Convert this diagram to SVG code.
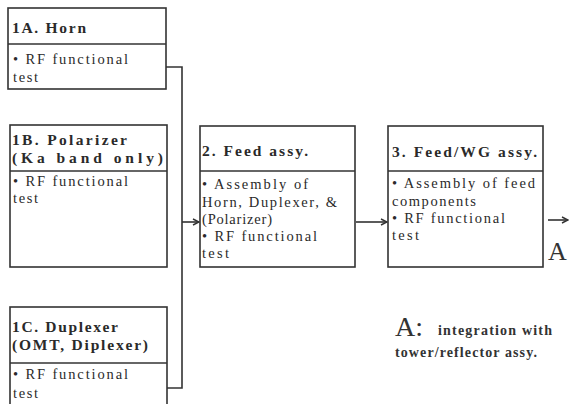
<svg xmlns="http://www.w3.org/2000/svg" width="569" height="404" viewBox="0 0 569 404">
<defs>
<style>
.box{fill:#fff;stroke:#333;stroke-width:1.6}
.div{stroke:#333;stroke-width:1.4}
.t{font-family:"Liberation Serif","DejaVu Serif",serif;font-size:15.5px;font-weight:bold;fill:#2a2a2a}
.b{font-family:"Liberation Serif","DejaVu Serif",serif;font-size:14.5px;fill:#2a2a2a}
.conn{fill:none;stroke:#333;stroke-width:1.6}
</style>
<marker id="arr" markerWidth="8" markerHeight="8" refX="7" refY="4" orient="auto" markerUnits="userSpaceOnUse">
<path d="M1,1 L7,4 L1,7" fill="none" stroke="#333" stroke-width="1.4"/>
</marker>
</defs>
<rect width="569" height="404" fill="#fff"/>
<g id="connectors">
<path class="conn" d="M166,67 H182 V388 H167"/>
<path class="conn" d="M182,222 H199" marker-end="url(#arr)"/>
<path class="conn" d="M356,222 H387" marker-end="url(#arr)"/>
<path class="conn" d="M548,220 H568" marker-end="url(#arr)"/>
</g>
<g id="n1A">
<rect class="box" x="8" y="8" width="158" height="81"/>
<line class="div" x1="8" y1="44" x2="166" y2="44"/>
<text class="t" x="12" y="33" textLength="74" lengthAdjust="spacing">1A. Horn</text>
<text class="b" x="13" y="64" textLength="115" lengthAdjust="spacing">• RF functional</text>
<text class="b" x="13" y="82" textLength="25" lengthAdjust="spacing">test</text>
</g>
<g id="n1B">
<rect class="box" x="10" y="125" width="157" height="142"/>
<line class="div" x1="10" y1="171" x2="167" y2="171"/>
<text class="t" x="12" y="145" textLength="115" lengthAdjust="spacing">1B. Polarizer</text>
<text class="t" x="12" y="163" textLength="151" lengthAdjust="spacing">(Ka band only)</text>
<text class="b" x="13" y="186" textLength="115" lengthAdjust="spacing">• RF functional</text>
<text class="b" x="13" y="203" textLength="25" lengthAdjust="spacing">test</text>
</g>
<g id="n1C">
<rect class="box" x="10" y="307" width="157" height="110"/>
<line class="div" x1="10" y1="363" x2="167" y2="363"/>
<text class="t" x="12" y="332" textLength="106" lengthAdjust="spacing">1C. Duplexer</text>
<text class="t" x="12" y="350" textLength="136" lengthAdjust="spacing">(OMT, Diplexer)</text>
<text class="b" x="13" y="379" textLength="115" lengthAdjust="spacing">• RF functional</text>
<text class="b" x="13" y="398" textLength="25" lengthAdjust="spacing">test</text>
</g>
<g id="n2">
<rect class="box" x="200" y="126" width="155" height="141"/>
<line class="div" x1="200" y1="171" x2="355" y2="171"/>
<text class="t" x="202" y="156" textLength="106" lengthAdjust="spacing">2. Feed assy.</text>
<text class="b" x="202" y="189" textLength="106" lengthAdjust="spacing">• Assembly of</text>
<text class="b" x="202" y="207" textLength="135" lengthAdjust="spacing">Horn, Duplexer, &amp;</text>
<text class="b" x="202" y="224" textLength="70" lengthAdjust="spacing">(Polarizer)</text>
<text class="b" x="202" y="241" textLength="115" lengthAdjust="spacing">• RF functional</text>
<text class="b" x="202" y="258" textLength="27" lengthAdjust="spacing">test</text>
</g>
<g id="n3">
<rect class="box" x="388" y="126" width="155" height="141"/>
<line class="div" x1="388" y1="171" x2="543" y2="171"/>
<text class="t" x="392" y="157" textLength="145" lengthAdjust="spacing">3. Feed/WG assy.</text>
<text class="b" x="392" y="188" textLength="143" lengthAdjust="spacing">• Assembly of feed</text>
<text class="b" x="392" y="206" textLength="84" lengthAdjust="spacing">components</text>
<text class="b" x="392" y="223" textLength="113" lengthAdjust="spacing">• RF functional</text>
<text class="b" x="392" y="240" textLength="27" lengthAdjust="spacing">test</text>
</g>
<g id="nA">
<text x="548" y="260" style="font-family:'Liberation Serif','DejaVu Serif',serif;font-size:26px;fill:#333">A</text>
</g>
<g id="legend">
<text x="395" y="336" style="font-family:'Liberation Serif','DejaVu Serif',serif;font-size:28px;fill:#333">A:</text>
<text x="438" y="335" textLength="114" lengthAdjust="spacing" style="font-family:'Liberation Serif','DejaVu Serif',serif;font-size:14px;font-weight:bold;fill:#333">integration with</text>
<text x="395" y="357" textLength="142" lengthAdjust="spacing" style="font-family:'Liberation Serif','DejaVu Serif',serif;font-size:14px;font-weight:bold;fill:#333">tower/reflector assy.</text>
</g>
</svg>
